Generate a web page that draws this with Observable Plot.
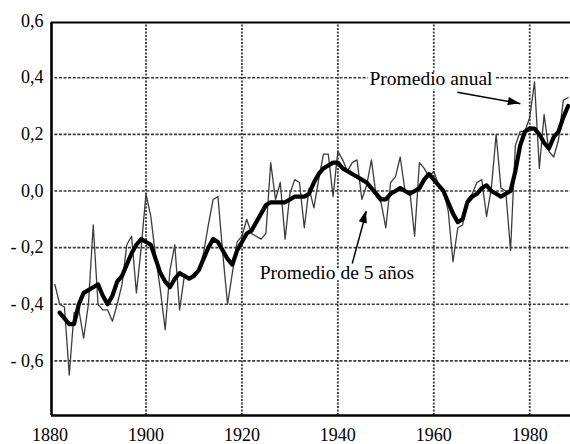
<!DOCTYPE html>
<html><head><meta charset="utf-8">
<script src="https://cdn.jsdelivr.net/npm/d3@7"></script>
<script src="https://cdn.jsdelivr.net/npm/@observablehq/plot@0.6"></script>
<style>
html,body{margin:0;padding:0;background:#fff;overflow:hidden;}
svg text { font-family: "Liberation Serif", "Times New Roman", Times, Tinos, "DejaVu Serif", "Noto Serif", serif !important; }
</style></head><body><div id="chart"></div>
<script>
// Annual mean (thin line), first year 1881
const annualStart = 1881;
const annualValues = [
  -0.33, -0.40, -0.41, -0.65, -0.43, -0.42, -0.52, -0.40, -0.12, -0.40,
  -0.42, -0.42, -0.46, -0.40, -0.33, -0.19, -0.16, -0.36, -0.20, -0.01,
  -0.09, -0.23, -0.35, -0.49, -0.28, -0.19, -0.42, -0.30, -0.31, -0.29,
  -0.28, -0.22, -0.12, -0.03, -0.02, -0.22, -0.40, -0.29, -0.18, -0.16,
  -0.10, -0.15, -0.16, -0.17, -0.15, 0.10, -0.03, 0.03, -0.17, -0.01,
  0.04, 0.03, -0.13, 0.01, -0.06, 0.04, 0.13, 0.13, -0.02, 0.14,
  0.11, 0.07, 0.10, 0.11, -0.03, 0.02, 0.11, -0.02, -0.04, -0.13,
  0.03, 0.05, 0.12, 0.00, 0.00, -0.16, 0.10, 0.08, 0.05, 0.07,
  0.02, 0.00, -0.07, -0.25, -0.13, -0.12, -0.03, -0.01, 0.03, 0.04,
  -0.09, 0.01, 0.20, 0.01, 0.00, -0.21, 0.16, 0.21, 0.21, 0.26,
  0.385, 0.08, 0.27, 0.14, 0.12, 0.18, 0.32, 0.33
];
// 5-year running mean (thick line), first year 1882
const meanStart = 1882;
const meanValues = [
  -0.43, -0.45, -0.47, -0.47, -0.40, -0.36, -0.35, -0.34, -0.33, -0.37,
  -0.40, -0.37, -0.32, -0.30, -0.26, -0.22, -0.19, -0.17, -0.18, -0.19,
  -0.24, -0.29, -0.32, -0.34, -0.31, -0.29, -0.30, -0.31, -0.30, -0.28,
  -0.24, -0.20, -0.17, -0.18, -0.21, -0.24, -0.26, -0.21, -0.18, -0.15,
  -0.14, -0.11, -0.08, -0.05, -0.04, -0.04, -0.04, -0.04, -0.03, -0.02,
  -0.02, -0.02, -0.01, 0.03, 0.06, 0.08, 0.09, 0.10, 0.10, 0.08,
  0.07, 0.06, 0.05, 0.04, 0.03, 0.01, -0.01, -0.03, -0.03, -0.01,
  0.00, 0.01, 0.00, -0.01, 0.00, 0.01, 0.04, 0.06, 0.04, 0.02,
  0.00, -0.04, -0.08, -0.11, -0.10, -0.04, -0.02, -0.01, 0.01, 0.02,
  0.00, -0.01, -0.02, -0.01, 0.00, 0.07, 0.16, 0.21, 0.22, 0.22,
  0.20, 0.17, 0.15, 0.19, 0.21, 0.26, 0.30
];
const xTicks = [1880, 1900, 1920, 1940, 1960, 1980];
const xGrid = [1900, 1920, 1940, 1960, 1980];
const yTicks = [-0.6, -0.4, -0.2, 0, 0.2, 0.4, 0.6];
const yTickLabels = ["- 0,6", "- 0,4", "- 0,2", "0,0", "0,2", "0,4", "0,6"];
const yGrid = [-0.6, -0.4, -0.2, 0, 0.2, 0.4];
const labelTexts = ["Promedio anual", "Promedio de 5 años"];
const labelX = [1946.6, 1923.7];
const labelY = [0.395, -0.288];
const arrowFromX = [1964.9, 1943.0];
const arrowFromY = [0.349, -0.256];
const arrowToX = [1978.05, 1945.95];
const arrowToY = [0.308, -0.072];

const annual = annualValues.map((v, i) => ({year: annualStart + i, value: v}));
const mean = meanValues.map((v, i) => ({year: meanStart + i, value: v}));
const labels = labelTexts.map((t, i) => ({text: t, x: labelX[i], y: labelY[i]}));
const arrows = arrowFromX.map((x, i) => ({x1: x, y1: arrowFromY[i], x2: arrowToX[i], y2: arrowToY[i]}));
const yLabelMap = new Map(yTicks.map((t, i) => [t, yTickLabels[i]]));

const X0 = 1880.3, X1 = 1988.5, Y0 = -0.793, Y1 = 0.595;
const font = "Times New Roman";

const chart = Plot.plot({
  width: 570,
  height: 444,
  marginLeft: 51,
  marginRight: 0,
  marginTop: 22,
  marginBottom: 29,
  style: {fontSize: "18px", background: "white", color: "black", overflow: "visible"},
  x: {domain: [X0, X1], label: null},
  y: {domain: [Y0, Y1], label: null},
  marks: [
    Plot.ruleY(yGrid, {x1: 1881, x2: X1, stroke: "#3a3a3a", strokeWidth: 1.6, strokeDasharray: "3,1.6"}),
    Plot.ruleX(xGrid, {y1: Y0, y2: Y1, stroke: "#3a3a3a", strokeWidth: 1.8, strokeDasharray: "2,1.5"}),
    Plot.line(annual, {x: "year", y: "value", stroke: "#3c3c3c", strokeWidth: 1.3}),
    Plot.line(mean, {x: "year", y: "value", stroke: "black", strokeWidth: 4.2, strokeLinejoin: "round", strokeLinecap: "round"}),
    Plot.text(labels, {x: "x", y: "y", text: "text", textAnchor: "start", fontSize: 19.5, fill: "black", stroke: "white", strokeWidth: 8}),
    Plot.link(arrows, {x1: "x1", y1: "y1", x2: "x2", y2: "y2", stroke: "black", strokeWidth: 1.5}),
    Plot.ruleX([X0], {stroke: "black", strokeWidth: 2.6}),
    Plot.ruleY([Y0], {stroke: "black", strokeWidth: 2.6}),
    Plot.ruleY([Y1], {stroke: "black", strokeWidth: 2}),
    Plot.axisX(xTicks, {tickSize: 0, tickPadding: 13, tickFormat: d => String(d), label: null, fontSize: 18}),
    Plot.axisY(yTicks, {tickSize: 0, tickPadding: 8, tickFormat: d => yLabelMap.get(d), label: null, fontSize: 18})
  ]
});
document.getElementById("chart").appendChild(chart);
d3.select(chart).selectAll("text").style("font-family", "'Liberation Serif', 'Times New Roman', 'DejaVu Serif', serif");

// filled arrowheads, positioned through the plot's scales
const sx = chart.scale("x"), sy = chart.scale("y");
const svg = d3.select(chart);
arrows.forEach(a => {
  const px1 = sx.apply(a.x1), py1 = sy.apply(a.y1);
  const px2 = sx.apply(a.x2), py2 = sy.apply(a.y2);
  const ang = Math.atan2(py2 - py1, px2 - px1);
  const L = 12, W = 4.2;
  const bx = px2 - L * Math.cos(ang), by = py2 - L * Math.sin(ang);
  const nx = -Math.sin(ang) * W, ny = Math.cos(ang) * W;
  svg.append("path")
    .attr("d", `M${px2},${py2}L${bx + nx},${by + ny}L${bx - nx},${by - ny}Z`)
    .attr("fill", "black");
});
</script></body></html>
